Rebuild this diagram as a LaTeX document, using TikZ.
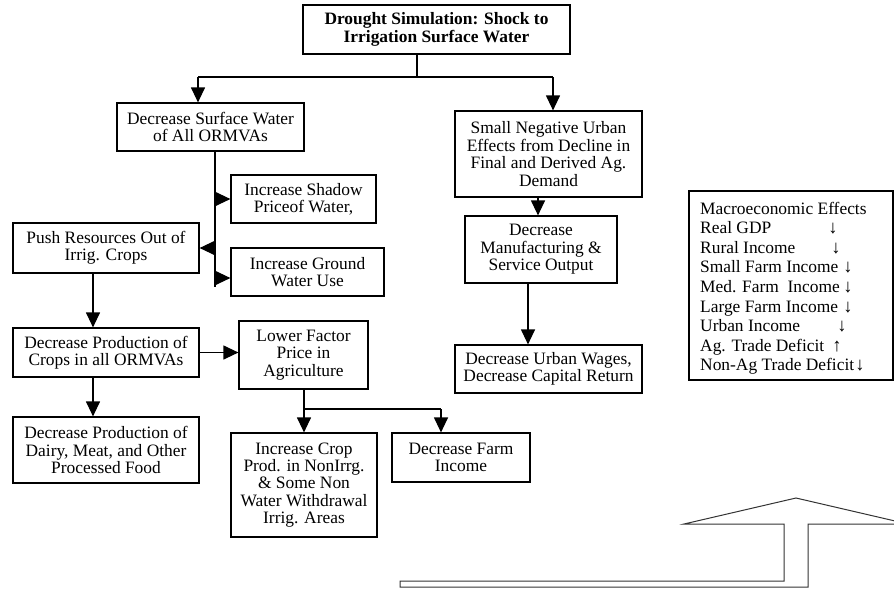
\documentclass[tikz,border=0pt]{standalone}
\usepackage{fontspec}
\setmainfont{Liberation Serif}
\usetikzlibrary{arrows.meta,calc}

\newcommand{\boxfont}{\fontsize{17.4pt}{17.4pt}\selectfont}
\newcommand{\arrowfont}{\fontsize{18.5pt}{18.5pt}\selectfont}

\tikzset{
  flowbox/.style={draw, line width=1.2pt, inner sep=0pt, align=center, font=\boxfont},
  ln/.style={line width=1.2pt},
  arr/.style={line width=1.2pt, -{Triangle[length=15pt,width=14pt]}},
  macrotext/.style={inner sep=0pt, anchor=base west, font=\boxfont},
  macroarrow/.style={inner sep=0pt, anchor=base, font=\arrowfont},
  bigarrow/.style={draw=black!80, line width=1pt, fill=white},
}

\begin{document}
\begin{tikzpicture}[x=1pt,y=-1pt]
\useasboundingbox (0,0) rectangle (894,590);
\clip (0,0) rectangle (894,590);

% boxes of the flow chart
\node[flowbox, font=\boxfont\bfseries, minimum width=267pt, minimum height=49pt] (top) at (436.5,29.5)
  {Drought Simulation: Shock to\\Irrigation Surface Water};
\node[flowbox, minimum width=187pt, minimum height=48pt] (sw) at (210.5,127)
  {Decrease Surface Water\\of All ORMVAs};
\node[flowbox, minimum width=145pt, minimum height=48pt] (shadow) at (303.5,199)
  {Increase Shadow\\Priceof Water,};
\node[flowbox, minimum width=153pt, minimum height=48pt] (ground) at (307.5,272)
  {Increase Ground\\Water Use};
\node[flowbox, minimum width=186pt, minimum height=50pt] (push) at (106,248)
  {Push Resources Out of\\Irrig. Crops};
\node[flowbox, minimum width=186pt, minimum height=49pt] (prod) at (106,352.5)
  {Decrease Production of\\Crops in all ORMVAs};
\node[flowbox, minimum width=186pt, minimum height=66pt] (dairy) at (106,450)
  {Decrease Production of\\Dairy, Meat, and Other\\Processed Food};
\node[flowbox, minimum width=129pt, minimum height=68pt] (lower) at (303.5,355)
  {Lower Factor\\Price in\\Agriculture};
\node[flowbox, minimum width=146pt, minimum height=104pt] (crop) at (304,485)
  {Increase Crop\\Prod. in NonIrrg.\\\& Some Non\\Water Withdrawal\\Irrig. Areas};
\node[flowbox, minimum width=138pt, minimum height=49pt] (farm) at (461,457.5)
  {Decrease Farm\\Income};
\node[flowbox, minimum width=187pt, minimum height=86pt] (urban) at (548.5,154)
  {Small Negative Urban\\Effects from Decline in\\Final and Derived Ag.\\Demand};
\node[flowbox, minimum width=152pt, minimum height=67pt] (manuf) at (541,249.5)
  {Decrease\\Manufacturing \&\\Service Output};
\node[flowbox, minimum width=187pt, minimum height=48pt] (wages) at (548.5,369)
  {Decrease Urban Wages,\\Decrease Capital Return};

% connectors
\coordinate (jt) at (417,77);
\coordinate (jl) at (198,77);
\coordinate (jr) at (553,77);
\draw[ln] (top.south -| jt) -- (jt);
\draw[ln] (jl) -- (jr);
\draw[arr] (jl) -- (sw.north -| jl);
\draw[arr] (jr) -- (urban.north -| jr);

\coordinate (sv) at (215,287);
\draw[ln] (sw.south -| sv) -- (sv);
\draw[arr] (shadow.west -| sv) -- (shadow.west);
\draw[arr] (push.east -| sv) -- (push.east);
\draw[arr] ($(ground.west -| sv)+(0,6)$) -- ($(ground.west)+(0,6)$);

\coordinate (lx) at (93,0);
\draw[arr] (push.south -| lx) -- (prod.north -| lx);
\draw[arr] (prod.south -| lx) -- (dairy.north -| lx);
\draw[arr] (prod.east) -- (lower.west |- prod.east);

\coordinate (lj) at (304,409);
\coordinate (rj) at (441,409);
\draw[ln] (lower.south -| lj) -- (lj) -- (rj);
\draw[arr] (lj) -- (crop.north -| lj);
\draw[arr] (rj) -- (farm.north -| rj);

\coordinate (ux) at (538,0);
\coordinate (mx) at (528,0);
\draw[arr] (urban.south -| ux) -- (manuf.north -| ux);
\draw[arr] (manuf.south -| mx) -- (wages.north -| mx);

% macroeconomic summary
\node[draw, line width=1.2pt, inner sep=0pt, minimum width=204pt, minimum height=189pt] (macro) at (791,285.5) {};
\node[macrotext] (m1) at (700,214.0) {Macroeconomic Effects};
\node[macrotext] (m2) at (700,233.6) {Real GDP};
\node[macrotext] (m3) at (700,253.2) {Rural Income};
\node[macrotext] (m4) at (700,272.8) {Small Farm Income};
\node[macrotext] (m5) at (700,292.4) {Med. Farm\ \ Income};
\node[macrotext] (m6) at (700,312.0) {Large Farm Income};
\node[macrotext] (m7) at (700,331.6) {Urban Income};
\node[macrotext] (m8) at (700,351.2) {Ag. Trade Deficit};
\node[macrotext] (m9) at (700,370.8) {Non-Ag Trade Deficit};
\node[macroarrow] (a2) at (833,233.6) {↓};
\node[macroarrow] (a3) at (836,253.2) {↓};
\node[macroarrow] (a4) at (848,272.8) {↓};
\node[macroarrow] (a5) at (848,292.4) {↓};
\node[macroarrow] (a6) at (848,312.0) {↓};
\node[macroarrow] (a7) at (842,331.6) {↓};
\node[macroarrow] (a8) at (837,351.2) {↑};
\node[macroarrow] (a9) at (860,370.8) {↓};

% large hollow bent arrow
\draw[bigarrow] (400,581) -- (784,581) -- (784,524) -- (684,524) -- (796,498)
  -- (908,524) -- (808,524) -- (808,587) -- (400,587) -- cycle;
\end{tikzpicture}
\end{document}
